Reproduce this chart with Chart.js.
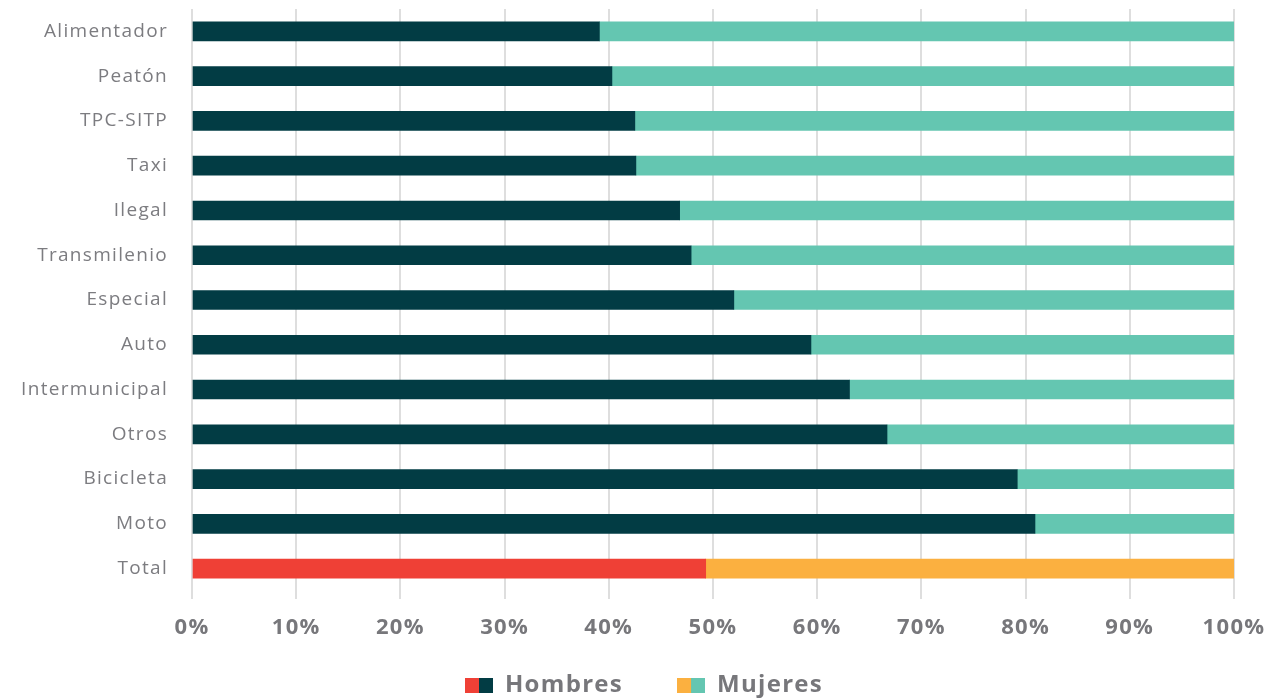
<!DOCTYPE html>
<html>
<head>
<meta charset="utf-8">
<script src="https://cdn.jsdelivr.net/npm/chart.js@4/dist/chart.umd.min.js"></script>
<style>
  html, body { margin: 0; padding: 0; background: #fff; }
  #wrap { width: 1274px; height: 699px; }
</style>
</head>
<body>
<div id="wrap"><canvas id="chart"></canvas></div>
<script>
const categories = ["Alimentador", "Peatón", "TPC-SITP", "Taxi", "Ilegal", "Transmilenio", "Especial",
  "Auto", "Intermunicipal", "Otros", "Bicicleta", "Moto", "Total"];
const hombres = [39.1, 40.3, 42.5, 42.6, 46.8, 47.9, 52.0, 59.4, 63.1, 66.7, 79.2, 80.9, 49.3];
const mujeres = hombres.map((v) => +(100 - v).toFixed(1));

const DARK = "#023c44";
const TEAL = "#64c6b1";
const RED = "#ef4036";
const ORANGE = "#fbb040";
const TEXT = "#77777b";

// color por barra: la fila "Total" va en rojo / naranja
const last = categories.length - 1;
const hColors = categories.map((c, i) => (i === last ? RED : DARK));
const mColors = categories.map((c, i) => (i === last ? ORANGE : TEAL));

function swatch(a, b) {
  const c = document.createElement("canvas");
  c.width = 28;
  c.height = 15;
  const g = c.getContext("2d");
  g.fillStyle = a;
  g.fillRect(0, 0, 14, 15);
  g.fillStyle = b;
  g.fillRect(14, 0, 14, 15);
  return c;
}

// texto un poco espaciado, como la tipografía original
const spacing = {
  id: "spacing",
  beforeUpdate: (chart) => { chart.ctx.letterSpacing = "1.3px"; },
  beforeDraw: (chart) => { chart.ctx.letterSpacing = "1.3px"; },
  // las etiquetas se recortan a la caja de su eje; se agrandan las cajas
  afterLayout: (chart) => {
    chart.scales.x.bottom = chart.height;
    chart.scales.y.left = 0;
  },
};

new Chart(document.getElementById("chart"), {
  type: "bar",
  plugins: [spacing],
  data: {
    labels: categories,
    datasets: [
      { label: "Hombres", data: hombres, backgroundColor: hColors },
      { label: "Mujeres", data: mujeres, backgroundColor: mColors },
    ],
  },
  options: {
    indexAxis: "y",
    responsive: true,
    maintainAspectRatio: false,
    animation: false,
    datasets: { bar: { barThickness: 19 } },
    layout: { padding: { top: 9, right: 40, bottom: 0, left: 54 } },
    scales: {
      x: {
        stacked: true,
        min: 0,
        max: 100,
        afterFit: (s) => {
          s.height = 28;
          s.paddingLeft = 0;
          s.paddingRight = 0;
        },
        grid: { color: "#dedede", lineWidth: 2, tickLength: 8 },
        border: { display: false },
        ticks: {
          stepSize: 10,
          padding: 16,
          maxRotation: 0,
          autoSkip: false,
          color: TEXT,
          font: { family: "Open Sans", size: 22, weight: "bold" },
          callback: (v) => v + "%",
        },
      },
      y: {
        stacked: true,
        afterFit: (s) => {
          s.width = 138;
          s.paddingTop = 0;
          s.paddingBottom = 0;
        },
        grid: { display: false, drawTicks: false },
        border: { display: false },
        ticks: {
          padding: 24,
          color: "#7c7c80",
          font: { family: "Open Sans", size: 19 },
        },
      },
    },
    plugins: {
      tooltip: { enabled: false },
      legend: {
        position: "bottom",
        maxHeight: 80,
        labels: {
          usePointStyle: true,
          pointStyleWidth: 28,
          boxHeight: 15,
          padding: 54,
          color: TEXT,
          font: { family: "Open Sans", size: 24, weight: "bold" },
          generateLabels: () => [
            { text: "Hombres", pointStyle: swatch(RED, DARK), fontColor: TEXT, lineWidth: 0, strokeStyle: "transparent", hidden: false, datasetIndex: 0 },
            { text: "Mujeres", pointStyle: swatch(ORANGE, TEAL), fontColor: TEXT, lineWidth: 0, strokeStyle: "transparent", hidden: false, datasetIndex: 1 },
          ],
        },
      },
    },
  },
});
</script>
</body>
</html>
